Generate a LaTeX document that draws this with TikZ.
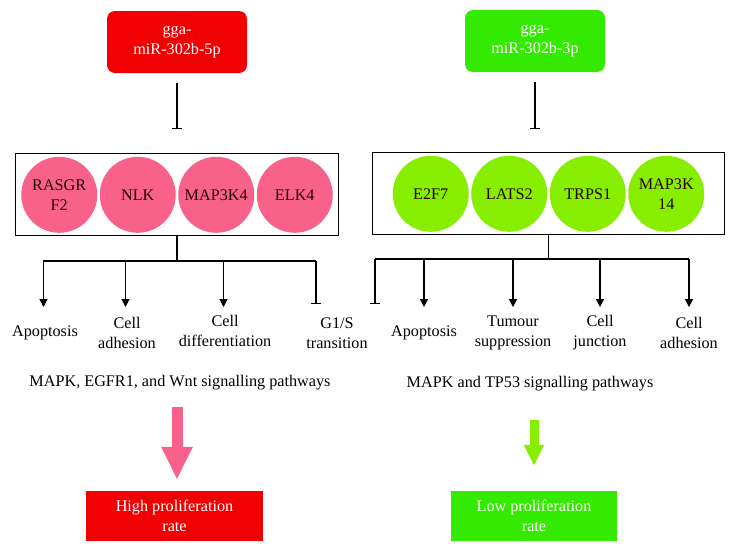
\documentclass[tikz,border=0pt]{standalone}
\usepackage{fontspec}
\setmainfont{Liberation Serif}
\usetikzlibrary{positioning}
\usetikzlibrary{arrows.meta}

\definecolor{mirred}{RGB}{240,0,0}
\definecolor{genepink}{RGB}{248,98,138}
\definecolor{mirgreen}{RGB}{52,234,0}
\definecolor{genelime}{RGB}{136,238,0}

\begin{document}
\begin{tikzpicture}[x=1pt, y=-1pt, font=\fontsize{16.2}{20}\selectfont,
    mirbox/.style={rounded corners=8pt, text=white, align=center, minimum width=140pt, minimum height=62pt},
    genebox/.style={draw, line width=1.1pt, inner ysep=2.5pt, column sep=2.5pt},
    gene/.style={circle, minimum size=76pt, inner sep=0pt, align=center, text=black!85!red},
    fxlabel/.style={align=center},
    ratebox/.style={text=white, align=center, minimum height=50pt},
    arrow/.style={line width=1.1pt, -{Triangle[length=8pt 0 0, width=8pt 0 0]}},
    inhibit/.style={line width=1.1pt, -{Bar[width=10pt 0 0]}}]
    \useasboundingbox (0,0) rectangle (736,552);

    % miRNAs
    \node (mirL) [mirbox, fill=mirred] at (177,42) {gga-\\miR-302b-5p};
    \node (mirR) [mirbox, fill=mirgreen] at (535,41) {gga-\\miR-302b-3p};

    % target genes
    \matrix (genesL) [genebox, inner xsep=5.5pt, below=80pt of mirL]
    {%
        \node (rasgrf2) [gene, fill=genepink] {RASGR\\F2}; &
        \node (nlk) [gene, fill=genepink] {NLK}; &
        \node (map3k4) [gene, fill=genepink] {MAP3K4}; &
        \node (elk4) [gene, fill=genepink] {ELK4}; \\
    };
    \matrix (genesR) [genebox, inner xsep=20.5pt, below=80pt of mirR, xshift=13.5pt]
    {%
        \node (e2f7) [gene, fill=genelime] {E2F7}; &
        \node (lats2) [gene, fill=genelime] {LATS2}; &
        \node (trps1) [gene, fill=genelime] {TRPS1}; &
        \node (map3k14) [gene, fill=genelime] {MAP3K\\14}; \\
    };

    \draw[inhibit, shorten <=10pt, shorten >=24pt] (mirL.south) -- (mirL.south |- genesL.north);
    \draw[inhibit, shorten <=10pt, shorten >=23pt] (mirR.south) -- (mirR.south |- genesR.north);

    % effects
    \node (apoL) [fxlabel] at (45,333) {Apoptosis};
    \node (adhL) [fxlabel] at (127,333) {Cell\\adhesion};
    \node (difL) [fxlabel] at (225,331) {Cell\\differentiation};
    \node (g1sL) [fxlabel] at (337,333) {G1/S\\transition};
    \node (apoR) [fxlabel] at (424,333) {Apoptosis};
    \node (tumR) [fxlabel] at (513,333) {Tumour\\suppression};
    \node (junR) [fxlabel] at (600,333) {Cell\\junction};
    \node (adhR) [fxlabel] at (689,333) {Cell\\adhesion};

    \coordinate (busL) at (0,261);
    \coordinate (busR) at (0,259);
    \coordinate (tipL) at (0,307);

    \draw[line width=1.1pt] (genesL.south) -- (genesL.south |- busL);
    \draw[line width=1.1pt] ([xshift=-2pt]apoL |- busL) -- ([xshift=-21pt]g1sL |- busL);
    \foreach \n in {apoL,adhL,difL}
        \draw[arrow] ([xshift=-1.5pt]\n |- busL) -- ([xshift=-1.5pt]\n |- tipL);
    \draw[inhibit] ([xshift=-21pt]g1sL |- busL) -- ([xshift=-21pt, yshift=3pt]g1sL |- tipL);

    \draw[line width=1.1pt] (genesR.south) -- (genesR.south |- busR);
    \draw[line width=1.1pt] ([xshift=38pt]g1sL |- busR) -- (adhR |- busR);
    \foreach \n in {apoR,tumR,junR,adhR}
        \draw[arrow] (\n |- busR) -- (\n |- tipL);
    \draw[inhibit] ([xshift=38pt]g1sL |- busR) -- ([xshift=38pt, yshift=3pt]g1sL |- tipL);

    % pathways and outcome
    \node (pathL) at (180,383) {MAPK, EGFR1, and Wnt signalling pathways};
    \node (pathR) at (530,384) {MAPK and TP53 signalling pathways};

    \node (rateL) [ratebox, fill=mirred, minimum width=177pt] at (174.5,516) {High proliferation\\rate};
    \node (rateR) [ratebox, fill=mirgreen, minimum width=166pt] at (534,516) {Low proliferation\\rate};

    \draw[line width=11pt, genepink, -{Triangle[length=33pt 0 0, width=29pt 0 0]}]
        (pathL.south -| rateL) ++(2.5,13) -- ([xshift=2.5pt, yshift=11pt]rateL.north);
    \draw[line width=9pt, genelime, -{Triangle[length=21pt 0 0, width=19pt 0 0]}]
        (pathR.south -| rateR) ++(0,25) -- ([yshift=25pt]rateR.north);
\end{tikzpicture}
\end{document}
